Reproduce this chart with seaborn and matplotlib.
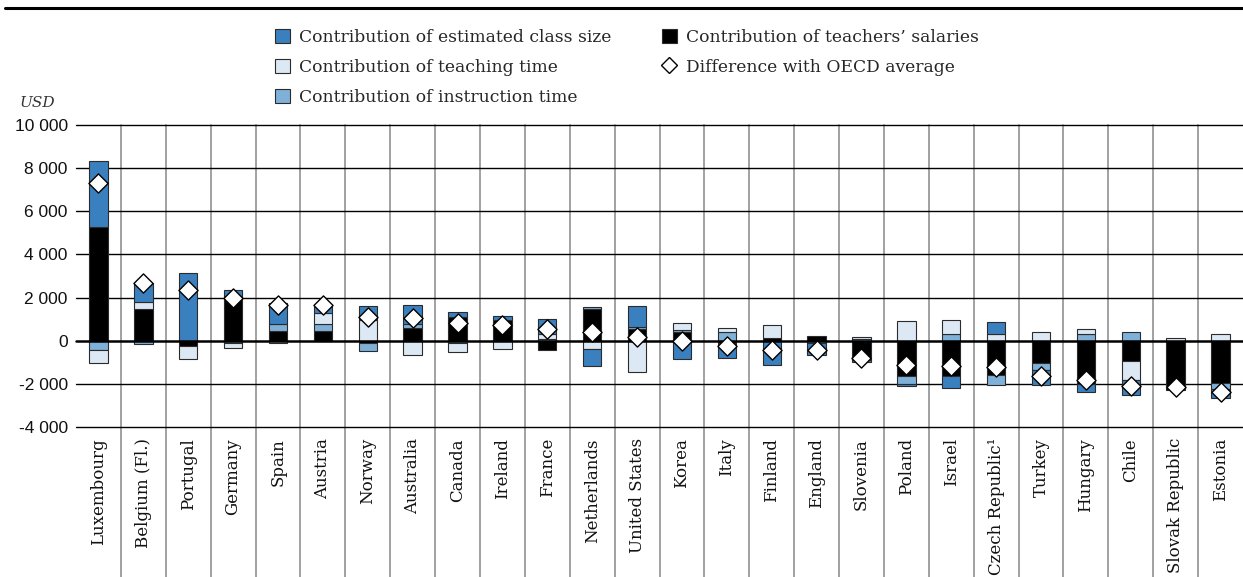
import numpy as np
import pandas as pd
import matplotlib
matplotlib.use("Agg")
import matplotlib.pyplot as plt
import seaborn as sns
from matplotlib.patches import Patch
from matplotlib.lines import Line2D

# Contributions to the difference in salary cost per student (USD)
countries = ["Luxembourg", "Belgium (Fl.)", "Portugal", "Germany", "Spain", "Austria",
             "Norway", "Australia", "Canada", "Ireland", "France", "Netherlands",
             "United States", "Korea", "Italy", "Finland", "England", "Slovenia",
             "Poland", "Israel", "Czech Republic\u00b9", "Turkey", "Hungary", "Chile",
             "Slovak Republic", "Estonia"]
salaries = [5290, 1480, -260, 2070, 450, 450, -90, 600, 1100, 970, -450, 1470,
            520, 390, -100, 140, 200, -900, -1650, -1650, -1600, -1030, -1990, -960,
            -2300, -1960]
instruction = [-420, -140, 0, -110, 340, 310, -390, 190, -110, 0, 100, 90,
               110, 90, 390, 0, -120, 90, -340, 290, -470, -340, 310, 420,
               0, -300]
teaching = [-600, 310, -590, -250, -110, 520, 940, -650, -400, -390, 200, -370,
            -1450, 340, 200, 570, 0, 80, 930, 670, 290, 390, 250, -880,
            140, 310]
class_size = [3040, 900, 3160, 280, 950, 340, 650, 880, 230, 160, 700, -800,
              960, -850, -690, -1140, -530, -90, -120, -540, 560, -670, -390, -660,
              0, -390]
difference = [7330, 2680, 2350, 1990, 1660, 1640, 1100, 1040, 830, 750, 560, 410,
              160, -20, -230, -430, -450, -800, -1140, -1170, -1210, -1650, -1820, -2080,
              -2150, -2360]
yticks = [-4000, -2000, 0, 2000, 4000, 6000, 8000, 10000]

legend_labels = ["Contribution of estimated class size", "Contribution of teaching time",
                 "Contribution of instruction time", "Contribution of teachers\u2019 salaries",
                 "Difference with OECD average"]

C_CLASS = "#3a80bf"
C_TEACH = "#dce8f4"
C_INSTR = "#7fb0d8"
C_SAL = "#000000"
EDGE = "#2b2b2b"

sns.set_theme(style="white")
plt.rcParams["font.family"] = ["DejaVu Serif"]

W, H = 1243, 577
fig = plt.figure(figsize=(W / 100, H / 100), dpi=100)
ax_left, ax_top, ax_bottom = 76, 125, 427
ax = fig.add_axes([ax_left / W, 1 - ax_bottom / H, 1 - ax_left / W, (ax_bottom - ax_top) / H])

n = len(countries)
x = np.arange(n)

# stacked components: positives stack upward, negatives downward
pos_base = np.zeros(n)
neg_base = np.zeros(n)
for vals, color in [(salaries, C_SAL), (instruction, C_INSTR),
                    (teaching, C_TEACH), (class_size, C_CLASS)]:
    v = np.asarray(vals, dtype=float)
    base = np.where(v >= 0, pos_base, neg_base)
    m = v != 0
    ax.bar(x[m], v[m], bottom=base[m], width=0.41, color=color,
           edgecolor=EDGE, linewidth=0.8, zorder=3)
    pos_base += np.clip(v, 0, None)
    neg_base += np.clip(v, None, 0)

df = pd.DataFrame({"pos": x, "difference": difference})
sns.scatterplot(data=df, x="pos", y="difference", marker="D", s=95,
                color="white", edgecolor="black", linewidth=1.0, zorder=5,
                ax=ax, legend=False)

ax.set_xlim(-0.5, n - 0.5)
ax.set_ylim(-4000, 10000)
ax.set_yticks(yticks)
ax.set_yticklabels([f"{v:,}".replace(",", " ") for v in yticks],
                   family="Liberation Sans", fontsize=12.5, color="#111111")
ax.set_xticks(x)
ax.set_xticklabels(countries, rotation=90, fontsize=12, color="#111111")
ax.tick_params(axis="both", length=0)
ax.tick_params(axis="y", pad=6)
ax.tick_params(axis="x", pad=8)
ax.set_xlabel("")
ax.set_ylabel("")
for s in ax.spines.values():
    s.set_visible(False)

for yv in yticks:
    ax.axhline(yv, color="black", lw=1.8 if yv == 0 else 1.0,
               zorder=4 if yv == 0 else 2, clip_on=False)

# category separators run down through the label area
lower = -(H - ax_bottom) / (ax_bottom - ax_top)
for b in x[:-1] + 0.5:
    ax.plot([b, b], [lower, 1], transform=ax.get_xaxis_transform(),
            color="#9a9a9a", lw=1.3, clip_on=False, zorder=1)

fig.text(37 / W, 1 - 103 / H, "USD", style="italic", fontsize=11,
         ha="center", va="center", color="#333333")

# rule under the heading
fig.add_artist(Line2D([5 / W, 1], [1 - 8 / H] * 2, color="black", lw=2.2))

handles = [Patch(facecolor=C_CLASS, edgecolor=EDGE, linewidth=0.8),
           Patch(facecolor=C_TEACH, edgecolor=EDGE, linewidth=0.8),
           Patch(facecolor=C_INSTR, edgecolor=EDGE, linewidth=0.8),
           Patch(facecolor=C_SAL, edgecolor=EDGE, linewidth=0.8),
           Line2D([], [], linestyle="none", marker="D", markersize=8,
                  markerfacecolor="white", markeredgecolor="black", markeredgewidth=1.0)]
fig.legend(handles, legend_labels, ncol=2, loc="upper left",
           bbox_to_anchor=(275 / W, 1 - 29 / H), frameon=False, fontsize=12.3,
           handlelength=0.9, handleheight=0.9, handletextpad=0.5,
           columnspacing=2.95, labelspacing=0.75, borderpad=0, borderaxespad=0)

fig.savefig("out.png", dpi=100)
